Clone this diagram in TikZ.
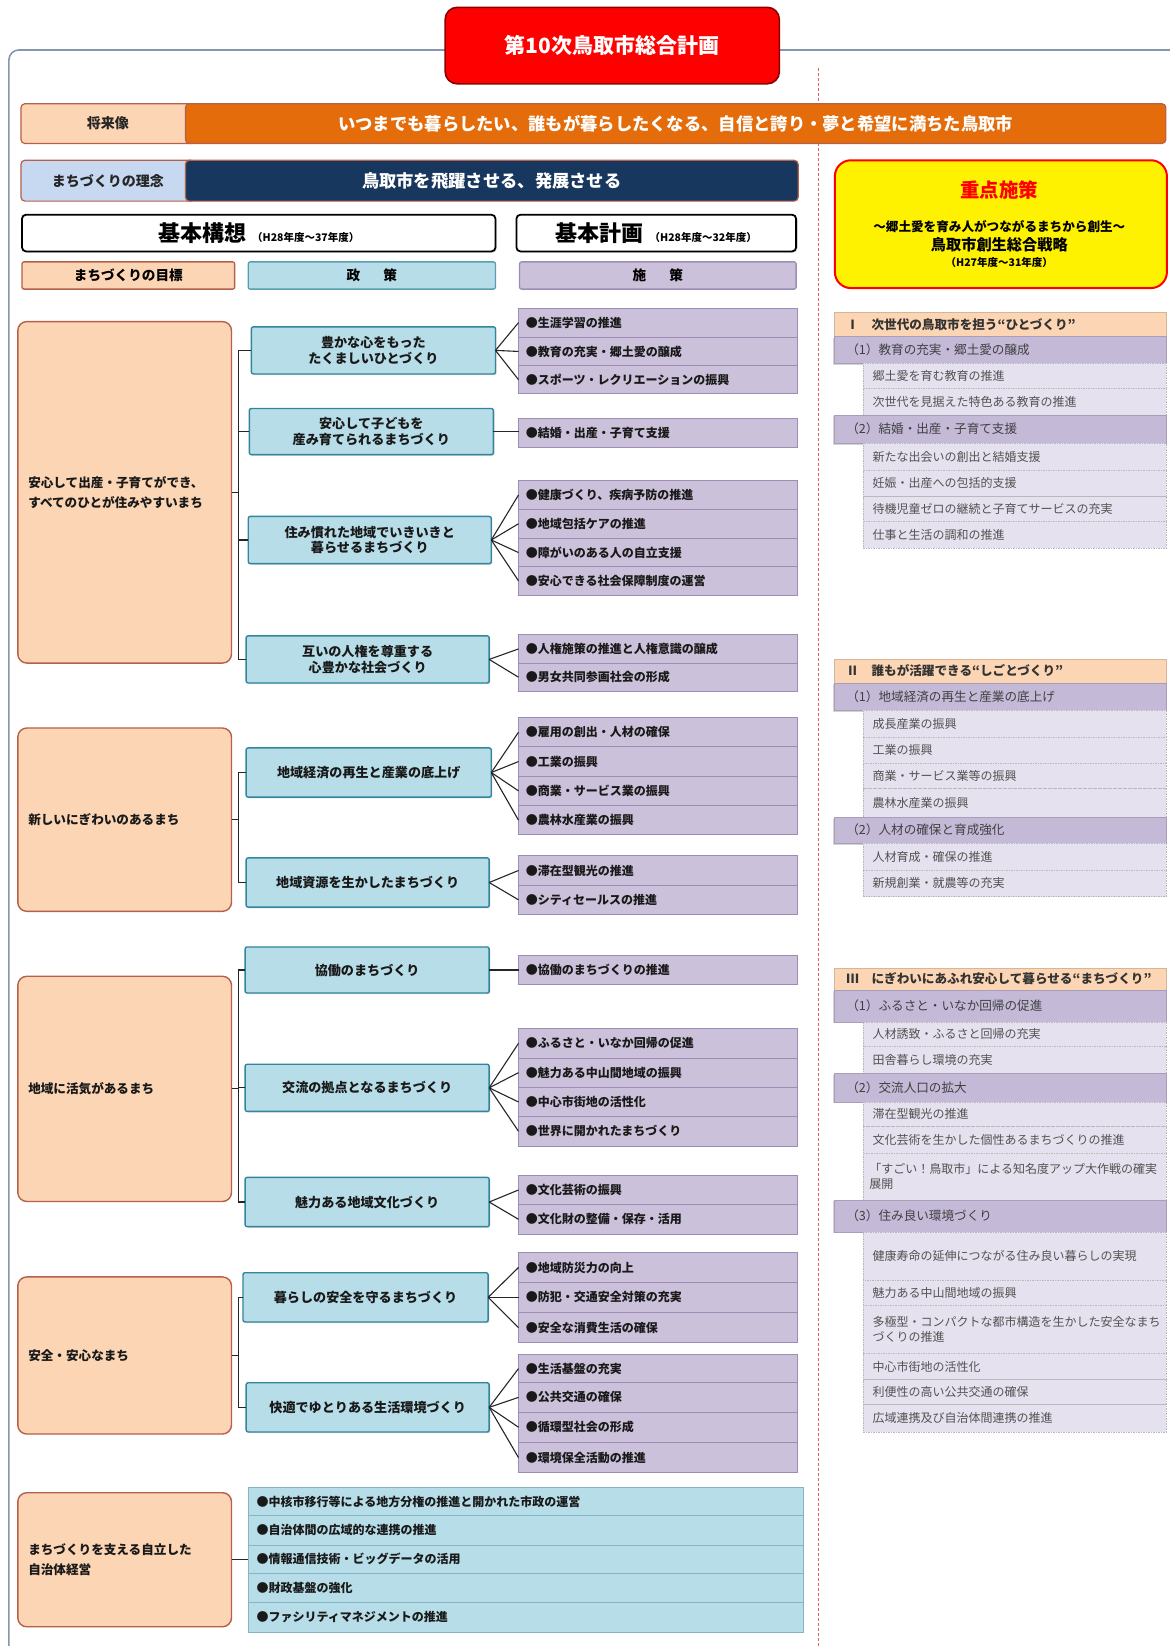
\documentclass[tikz,border=0pt]{standalone}
\usepackage{fontspec}
\setmainfont{Noto Sans CJK JP}
\usetikzlibrary{shadows}
\definecolor{peach}{HTML}{FCD5B4}
\definecolor{goalb}{HTML}{B4604A}
\definecolor{polf}{HTML}{B7DDE8}
\definecolor{polb}{HTML}{31859C}
\definecolor{measf}{HTML}{CCC1DA}
\definecolor{measb}{HTML}{9B8DB5}
\definecolor{subf}{HTML}{C4BAD8}
\definecolor{itemf}{HTML}{E6E1EE}
\definecolor{framec}{HTML}{8497B0}
\definecolor{orangebar}{HTML}{E46C0A}
\definecolor{navybar}{HTML}{17375E}
\definecolor{lblue}{HTML}{C6D9F1}
\definecolor{dashred}{HTML}{E06060}
\definecolor{titlered}{HTML}{FF0000}
\newcommand\bx[8]{%
\pgfmathsetmacro\bxw{((#5)-(#3))*1.0475}%
\pgfmathsetmacro\bxh{((#6)-(#4))*1.0475}%
\pgfmathsetmacro\bxt{((#5)-(#3)-2*(#7))*1.0475}%
\node[#1,minimum width=\bxw pt,minimum height=\bxh pt,text width=\bxt pt] (#2) at ({((#3)+(#5))/2},{((#4)+(#6))/2}) {#8};}
\begin{document}
\begin{tikzpicture}[x=1.0475pt,y=-1.0475pt,
 nb/.style={inner sep=0pt,outer sep=0pt},
 titlebox/.style={nb,fill=titlered,draw=red!55!black,line width=1.6pt,rounded corners=12pt,text=white,align=center,font=\bfseries\fontsize{21}{24}\selectfont},
 lblbox/.style={nb,draw=goalb,line width=1.2pt,rounded corners=4pt,align=center,font=\bfseries\fontsize{14}{16}\selectfont,text=black!85},
 barbox/.style={nb,draw=goalb,line width=1.2pt,rounded corners=4pt,align=center,text=white,font=\bfseries\fontsize{17.3}{20}\selectfont},
 kbox/.style={nb,draw=black,fill=white,line width=1.8pt,rounded corners=4pt,align=center,font=\bfseries,drop shadow={shadow xshift=1.2pt,shadow yshift=-1.2pt,opacity=0.3}},
 hgoal/.style={nb,draw=goalb,fill=peach,line width=1.3pt,rounded corners=2pt,align=center,font=\bfseries\fontsize{13.6}{15}\selectfont},
 hpol/.style={hgoal,draw=polb!80,fill=polf},
 hmeas/.style={hgoal,draw=measb,fill=measf},
 ybox/.style={nb,draw=red,fill=yellow,line width=2pt,rounded corners=16pt},
 goalbox/.style={nb,draw=goalb,fill=peach,line width=1.4pt,rounded corners=9pt,align=left,font=\bfseries\fontsize{12.6}{20}\selectfont,text=black!90},
 polbox/.style={nb,draw=polb,fill=polf,line width=1.4pt,rounded corners=2pt,align=center,font=\bfseries\fontsize{13.1}{15.7}\selectfont,text=black!90,drop shadow={shadow xshift=1.2pt,shadow yshift=-1.2pt,opacity=0.3}},
 measbox/.style={nb,draw=measb,fill=measf,line width=0.9pt,align=left,font=\bfseries\fontsize{12}{14}\selectfont,text=black!90},
 g5box/.style={measbox,draw=polb!60,fill=polf},
 rhead/.style={nb,draw=peach!85!black,fill=peach,line width=0.6pt,align=left,font=\bfseries\fontsize{12.6}{14}\selectfont,text=black!80},
 rsub/.style={nb,draw=subf!85!black,fill=subf,line width=0.6pt,align=left,font=\fontsize{12.6}{14}\selectfont,text=black!75,drop shadow={shadow xshift=-1pt,shadow yshift=-1.5pt,opacity=0.35}},
 ritem/.style={nb,draw=gray!55,fill=itemf,line width=0.6pt,dash pattern=on 1.5pt off 1pt,align=left,font=\fontsize{12}{15}\selectfont,text=black!68},
 link/.style={draw=black!85,line width=1.1pt}]
\useasboundingbox (0,0) rectangle (1116,1571.36);
% frame and divider
\draw[draw=framec,line width=1.6pt,rounded corners=10pt] (8.5,1590) -- (8.5,47.7) -- (1130,47.7);
\draw[draw=dashred,line width=1.2pt,dash pattern=on 3pt off 2pt] (781,65) -- (781,1590);
% title
\bx{titlebox}{title}{425}{7}{744}{80}{0}{第10次鳥取市総合計画}
% vision rows
\bx{lblbox,fill=peach}{fl}{20}{99}{186}{137}{0}{将来像}
\bx{barbox,fill=orangebar}{fv}{177}{99}{1113}{137}{0}{いつまでも暮らしたい、誰もが暮らしたくなる、自信と誇り・夢と希望に満ちた鳥取市}
\bx{lblbox,fill=lblue}{rl}{20}{153}{186}{192}{0}{まちづくりの理念}
\bx{barbox,fill=navybar}{rv}{177}{153}{762}{192}{0}{鳥取市を飛躍させる、発展させる}
% plan headers
\bx{kbox}{kk}{21}{205}{473}{240}{0}{{\fontsize{22}{24}\selectfont 基本構想}\hspace{6pt}{\fontsize{10.5}{12}\selectfont （H28年度～37年度）}}
\bx{kbox}{kp}{493}{205}{760}{240}{0}{{\fontsize{22}{24}\selectfont 基本計画}\hspace{6pt}{\fontsize{10.5}{12}\selectfont （H28年度～32年度）}}
\bx{hgoal}{hg}{21}{250}{224}{276}{0}{まちづくりの目標}
\bx{hpol}{hp}{237}{250}{473}{276}{0}{政\hspace{1.7em}策}
\bx{hmeas}{hm}{496}{250}{760}{276}{0}{施\hspace{1.7em}策}
% priority box
\bx{ybox}{yb}{797}{153}{1114}{275}{0}{}
\node[nb,text=red,font=\bfseries\fontsize{19.4}{21}\selectfont] (yt1) at (954,181) {重点施策};
\node[nb,font=\bfseries\fontsize{12.6}{14}\selectfont] (yt2) at (954,216) {～郷土愛を育み人がつながるまちから創生～};
\node[nb,font=\bfseries\fontsize{15.2}{17}\selectfont] (yt3) at (954,234) {鳥取市創生総合戦略};
\node[nb,font=\bfseries\fontsize{10.5}{12}\selectfont] (yt4) at (954,251) {（H27年度～31年度）};
% goals
\bx{goalbox}{G1}{17}{307}{221}{633}{10}{安心して出産・子育てができ、\\すべてのひとが住みやすいまち}
\bx{goalbox}{G2}{17}{695}{221}{870}{10}{新しいにぎわいのあるまち}
\bx{goalbox}{G3}{17}{932}{221}{1147}{10}{地域に活気があるまち}
\bx{goalbox}{G4}{17}{1219}{221}{1369}{10}{安全・安心なまち}
\bx{goalbox}{G5}{17}{1425}{221}{1553}{10}{まちづくりを支える自立した\\自治体経営}
% policies
\bx{polbox}{P1}{240}{312}{473}{357}{4}{豊かな心をもった\\たくましいひとづくり}
\bx{polbox}{P2}{238}{390}{471}{434}{4}{安心して子どもを\\産み育てられるまちづくり}
\bx{polbox}{P3}{237}{493}{469}{538}{4}{住み慣れた地域でいきいきと\\暮らせるまちづくり}
\bx{polbox}{P4}{235}{607}{467}{652}{4}{互いの人権を尊重する\\心豊かな社会づくり}
\bx{polbox}{P5}{235}{714}{469}{761}{4}{地域経済の再生と産業の底上げ}
\bx{polbox}{P6}{235}{819}{467}{866}{4}{地域資源を生かしたまちづくり}
\bx{polbox}{P7}{234}{904}{467}{948}{4}{協働のまちづくり}
\bx{polbox}{P8}{234}{1016}{467}{1061}{4}{交流の拠点となるまちづくり}
\bx{polbox}{P9}{234}{1124}{467}{1171}{4}{魅力ある地域文化づくり}
\bx{polbox}{P10}{232}{1215}{466}{1262}{4}{暮らしの安全を守るまちづくり}
\bx{polbox}{P11}{235}{1320}{467}{1367}{4}{快適でゆとりある生活環境づくり}
% measures
\bx{measbox}{M1a}{495}{294}{761}{322}{7}{●生涯学習の推進}
\bx{measbox}{M1b}{495}{322}{761}{349}{7}{●教育の充実・郷土愛の醸成}
\bx{measbox}{M1c}{495}{349}{761}{376}{7}{●スポーツ・レクリエーションの振興}
\bx{measbox}{M2a}{495}{399}{761}{427}{7}{●結婚・出産・子育て支援}
\bx{measbox}{M3a}{495}{459}{761}{486}{7}{●健康づくり、疾病予防の推進}
\bx{measbox}{M3b}{495}{486}{761}{514}{7}{●地域包括ケアの推進}
\bx{measbox}{M3c}{495}{514}{761}{541}{7}{●障がいのある人の自立支援}
\bx{measbox}{M3d}{495}{541}{761}{568}{7}{●安心できる社会保障制度の運営}
\bx{measbox}{M4a}{495}{606}{761}{633}{7}{●人権施策の推進と人権意識の醸成}
\bx{measbox}{M4b}{495}{633}{761}{660}{7}{●男女共同参画社会の形成}
\bx{measbox}{M5a}{495}{685}{761}{713}{7}{●雇用の創出・人材の確保}
\bx{measbox}{M5b}{495}{713}{761}{741}{7}{●工業の振興}
\bx{measbox}{M5c}{495}{741}{761}{769}{7}{●商業・サービス業の振興}
\bx{measbox}{M5d}{495}{769}{761}{797}{7}{●農林水産業の振興}
\bx{measbox}{M6a}{495}{817}{761}{845}{7}{●滞在型観光の推進}
\bx{measbox}{M6b}{495}{845}{761}{873}{7}{●シティセールスの推進}
\bx{measbox}{M7a}{495}{912}{761}{940}{7}{●協働のまちづくりの推進}
\bx{measbox}{M8a}{495}{982}{761}{1010}{7}{●ふるさと・いなか回帰の促進}
\bx{measbox}{M8b}{495}{1010}{761}{1038}{7}{●魅力ある中山間地域の振興}
\bx{measbox}{M8c}{495}{1038}{761}{1066}{7}{●中心市街地の活性化}
\bx{measbox}{M8d}{495}{1066}{761}{1094}{7}{●世界に開かれたまちづくり}
\bx{measbox}{M9a}{495}{1122}{761}{1150}{7}{●文化芸術の振興}
\bx{measbox}{M9b}{495}{1150}{761}{1178}{7}{●文化財の整備・保存・活用}
\bx{measbox}{M10a}{495}{1196}{761}{1224}{7}{●地域防災力の向上}
\bx{measbox}{M10b}{495}{1224}{761}{1253}{7}{●防犯・交通安全対策の充実}
\bx{measbox}{M10c}{495}{1253}{761}{1282}{7}{●安全な消費生活の確保}
\bx{measbox}{M11a}{495}{1293}{761}{1320}{7}{●生活基盤の充実}
\bx{measbox}{M11b}{495}{1320}{761}{1348}{7}{●公共交通の確保}
\bx{measbox}{M11c}{495}{1348}{761}{1377}{7}{●循環型社会の形成}
\bx{measbox}{M11d}{495}{1377}{761}{1406}{7}{●環境保全活動の推進}
\bx{g5box}{M12a}{237}{1420}{767}{1447}{8}{●中核市移行等による地方分権の推進と開かれた市政の運営}
\bx{g5box}{M12b}{237}{1447}{767}{1475}{8}{●自治体間の広域的な連携の推進}
\bx{g5box}{M12c}{237}{1475}{767}{1502}{8}{●情報通信技術・ビッグデータの活用}
\bx{g5box}{M12d}{237}{1502}{767}{1530}{8}{●財政基盤の強化}
\bx{g5box}{M12e}{237}{1530}{767}{1558}{8}{●ファシリティマネジメントの推進}
% brackets goal -> policies
\path (G1.east) ++(7,0) coordinate (B1);
\path (G2.east) ++(7,0) coordinate (B2);
\path (G3.east) ++(7,0) coordinate (B3);
\path (G4.east) ++(7,0) coordinate (B4);
\draw[link] (G1.east) -- (B1);
\draw[link] (G2.east) -- (B2);
\draw[link] (G3.east) -- (B3);
\draw[link] (G4.east) -- (B4);
\foreach \p in {P1,P2,P3,P4} \draw[link] (\p.west) -| (B1);
\foreach \p in {P5,P6} \draw[link] (\p.west) -| (B2);
\foreach \p in {P7,P8,P9} \draw[link] (\p.west) -| (B3);
\foreach \p in {P10,P11} \draw[link] (\p.west) -| (B4);
\draw[link] (G5.east) -- (G5.east -| M12c.west);
% fans policy -> measures
\foreach \m in {M1a,M1b,M1c} \draw[link] (P1.east) -- (\m.west);
\draw[link] (P2.east) -- (P2.east -| M2a.west);
\foreach \m in {M3a,M3b,M3c,M3d} \draw[link] (P3.east) -- (\m.west);
\foreach \m in {M4a,M4b} \draw[link] (P4.east) -- (\m.west);
\foreach \m in {M5a,M5b,M5c,M5d} \draw[link] (P5.east) -- (\m.west);
\foreach \m in {M6a,M6b} \draw[link] (P6.east) -- (\m.west);
\draw[link] (P7.east) -- (P7.east -| M7a.west);
\foreach \m in {M8a,M8b,M8c,M8d} \draw[link] (P8.east) -- (\m.west);
\foreach \m in {M9a,M9b} \draw[link] (P9.east) -- (\m.west);
\foreach \m in {M10a,M10b,M10c} \draw[link] (P10.east) -- (\m.west);
\foreach \m in {M11a,M11b,M11c,M11d} \draw[link] (P11.east) -- (\m.west);
% right column I
\bx{rhead}{R1}{796}{298}{1113}{321}{12}{Ⅰ　次世代の鳥取市を担う“ひとづくり”}
\bx{rsub}{R1s1}{796}{321}{1113}{347}{12}{（1）教育の充実・郷土愛の醸成}
\bx{ritem}{R1i1}{824}{347}{1113}{371}{9}{郷土愛を育む教育の推進}
\bx{ritem}{R1i2}{824}{371}{1113}{396}{9}{次世代を見据えた特色ある教育の推進}
\bx{rsub}{R1s2}{796}{396}{1113}{423}{12}{（2）結婚・出産・子育て支援}
\bx{ritem}{R1i3}{824}{423}{1113}{449}{9}{新たな出会いの創出と結婚支援}
\bx{ritem}{R1i4}{824}{449}{1113}{474}{9}{妊娠・出産への包括的支援}
\bx{ritem}{R1i5}{824}{474}{1113}{498}{9}{待機児童ゼロの継続と子育てサービスの充実}
\bx{ritem}{R1i6}{824}{498}{1113}{523}{9}{仕事と生活の調和の推進}
% right column II
\bx{rhead}{R2}{796}{629}{1113}{652}{12}{Ⅱ　誰もが活躍できる“しごとづくり”}
\bx{rsub}{R2s1}{796}{652}{1113}{678}{12}{（1）地域経済の再生と産業の底上げ}
\bx{ritem}{R2i1}{824}{678}{1113}{703.5}{9}{成長産業の振興}
\bx{ritem}{R2i2}{824}{703.5}{1113}{728.5}{9}{工業の振興}
\bx{ritem}{R2i3}{824}{728.5}{1113}{753}{9}{商業・サービス業等の振興}
\bx{ritem}{R2i4}{824}{753}{1113}{780}{9}{農林水産業の振興}
\bx{rsub}{R2s2}{796}{780}{1113}{805}{12}{（2）人材の確保と育成強化}
\bx{ritem}{R2i5}{824}{805}{1113}{830.5}{9}{人材育成・確保の推進}
\bx{ritem}{R2i6}{824}{830.5}{1113}{856}{9}{新規創業・就農等の充実}
% right column III
\bx{rhead}{R3}{796}{924}{1113}{945}{12}{Ⅲ　にぎわいにあふれ安心して暮らせる“まちづくり”}
\bx{rsub}{R3s1}{796}{945}{1113}{975.5}{12}{（1）ふるさと・いなか回帰の促進}
\bx{ritem}{R3i1}{824}{975.5}{1113}{998.5}{9}{人材誘致・ふるさと回帰の充実}
\bx{ritem}{R3i2}{824}{998.5}{1113}{1024.5}{9}{田舎暮らし環境の充実}
\bx{rsub}{R3s2}{796}{1024.5}{1113}{1052}{12}{（2）交流人口の拡大}
\bx{ritem}{R3i3}{824}{1052}{1113}{1075.5}{9}{滞在型観光の推進}
\bx{ritem}{R3i4}{824}{1075.5}{1113}{1101}{9}{文化芸術を生かした個性あるまちづくりの推進}
\bx{ritem}{R3i5}{824}{1101}{1113}{1145.5}{6}{「すごい！鳥取市」による知名度アップ大作戦の確実\\展開}
\bx{rsub}{R3s3}{796}{1145.5}{1113}{1176}{12}{（3）住み良い環境づくり}
\bx{ritem}{R3i6}{824}{1176}{1113}{1222}{9}{健康寿命の延伸につながる住み良い暮らしの実現}
\bx{ritem}{R3i7}{824}{1222}{1113}{1246}{9}{魅力ある中山間地域の振興}
\bx{ritem}{R3i8}{824}{1246}{1113}{1292}{9}{多極型・コンパクトな都市構造を生かした安全なまち\\づくりの推進}
\bx{ritem}{R3i9}{824}{1292}{1113}{1317}{9}{中心市街地の活性化}
\bx{ritem}{R3i10}{824}{1317}{1113}{1341}{9}{利便性の高い公共交通の確保}
\bx{ritem}{R3i11}{824}{1341}{1113}{1367}{9}{広域連携及び自治体間連携の推進}
\end{tikzpicture}
\end{document}
